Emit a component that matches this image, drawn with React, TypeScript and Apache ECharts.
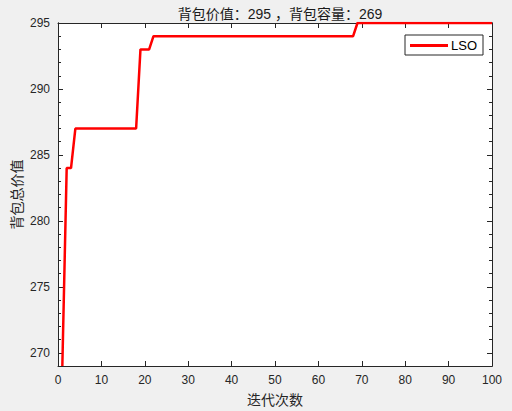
import React, { useEffect, useRef } from "react";
import * as echarts from "echarts";

const iterations: number[] = Array.from({ length: 100 }, (_, i) => i + 1);
const bestValues: number[] = [
  269, 284, 284, 287, 287, 287, 287, 287, 287, 287,
  287, 287, 287, 287, 287, 287, 287, 287, 293, 293,
  293, 294, 294, 294, 294, 294, 294, 294, 294, 294,
  294, 294, 294, 294, 294, 294, 294, 294, 294, 294,
  294, 294, 294, 294, 294, 294, 294, 294, 294, 294,
  294, 294, 294, 294, 294, 294, 294, 294, 294, 294,
  294, 294, 294, 294, 294, 294, 294, 294, 295, 295,
  295, 295, 295, 295, 295, 295, 295, 295, 295, 295,
  295, 295, 295, 295, 295, 295, 295, 295, 295, 295,
  295, 295, 295, 295, 295, 295, 295, 295, 295, 295,
];
const yMajorTicks: number[] = [270, 275, 280, 285, 290, 295];
const yMinorTicks: number[] = Array.from({ length: 27 }, (_, i) => 269 + i);
const titleText = "背包价值：295 ，背包容量：269";
const xName = "迭代次数";
const yName = "背包总价值";
const seriesName = "LSO";

const AX = "#262626";
const LATIN = "'Liberation Sans', Arial, sans-serif";
const CJK = "'Liberation Sans', 'Noto Sans CJK SC', sans-serif";

export default function App() {
  const ref = useRef<HTMLDivElement>(null);
  useEffect(() => {
    if (!ref.current) return;
    const chart = echarts.init(ref.current, undefined, { renderer: "svg" });
    const yBase = (pos: "left" | "right", ticks: number[], len: number, labels: boolean) => ({
      type: "value",
      position: pos,
      min: 269,
      max: 295,
      interval: 1,
      axisLine: { show: true, onZero: false, lineStyle: { color: AX, width: 1 } },
      axisTick: { show: true, inside: true, length: len, customValues: ticks, lineStyle: { color: AX } },
      axisLabel: {
        show: labels,
        customValues: yMajorTicks,
        color: AX,
        fontSize: 12,
        fontFamily: LATIN,
        margin: 8,
      },
      splitLine: { show: false },
    });
    chart.setOption({
      animation: false,
      backgroundColor: "#f0f0f0",
      title: {
        text: titleText,
        left: 275,
        textAlign: "center",
        top: 2,
        textStyle: { fontSize: 14, fontWeight: "normal", color: "#1a1a1a", fontFamily: CJK },
      },
      grid: {
        left: 58,
        right: 20,
        top: 23,
        bottom: 45,
        show: true,
        backgroundColor: "#ffffff",
        borderWidth: 0,
        containLabel: false,
        outerBoundsMode: "none",
      },
      legend: {
        data: [{ name: seriesName, icon: "rect" }],
        left: 405,
        top: 35,
        orient: "vertical",
        itemWidth: 38,
        itemHeight: 3,
        itemGap: 0,
        padding: [4, 6, 3, 5],
        borderColor: AX,
        borderWidth: 1,
        borderRadius: 0,
        backgroundColor: "#ffffff",
        textStyle: { fontSize: 13, color: "#000", fontFamily: LATIN, padding: [0, 0, 0, -2] },
      },
      xAxis: [
        {
          type: "value",
          min: 0,
          max: 100,
          interval: 10,
          position: "bottom",
          name: xName,
          nameLocation: "middle",
          nameGap: 27,
          nameMoveOverlap: false,
          nameTextStyle: { fontSize: 14, color: AX, fontFamily: CJK },
          axisLine: { show: true, onZero: false, lineStyle: { color: AX } },
          axisTick: { show: true, inside: true, length: 5, lineStyle: { color: AX } },
          axisLabel: { color: AX, fontSize: 12, fontFamily: LATIN, margin: 8 },
          splitLine: { show: false },
        },
        {
          type: "value",
          min: 0,
          max: 100,
          interval: 10,
          position: "top",
          axisLine: { show: true, onZero: false, lineStyle: { color: AX } },
          axisTick: { show: true, inside: true, length: 5, lineStyle: { color: AX } },
          axisLabel: { show: false },
          splitLine: { show: false },
        },
      ],
      yAxis: [
        {
          ...yBase("left", yMajorTicks, 5, true),
          name: yName,
          nameLocation: "middle",
          nameGap: 34,
          nameRotate: 90,
          nameMoveOverlap: false,
          nameTextStyle: { fontSize: 14, color: AX, fontFamily: CJK },
        },
        yBase("left", yMinorTicks, 3, false),
        yBase("right", yMajorTicks, 5, false),
        yBase("right", yMinorTicks, 3, false),
      ],
      series: [
        {
          name: seriesName,
          type: "line",
          xAxisIndex: 0,
          yAxisIndex: 0,
          data: iterations.map((x, i) => [x, bestValues[i]]),
          showSymbol: false,
          symbol: "none",
          lineStyle: { color: "#ff0000", width: 2.5 },
          itemStyle: { color: "#ff0000" },
          clip: true,
        },
      ],
    });
    return () => chart.dispose();
  }, []);
  return <div ref={ref} style={{ width: 512, height: 411, position: "fixed", left: 0, top: 0 }} />;
}
